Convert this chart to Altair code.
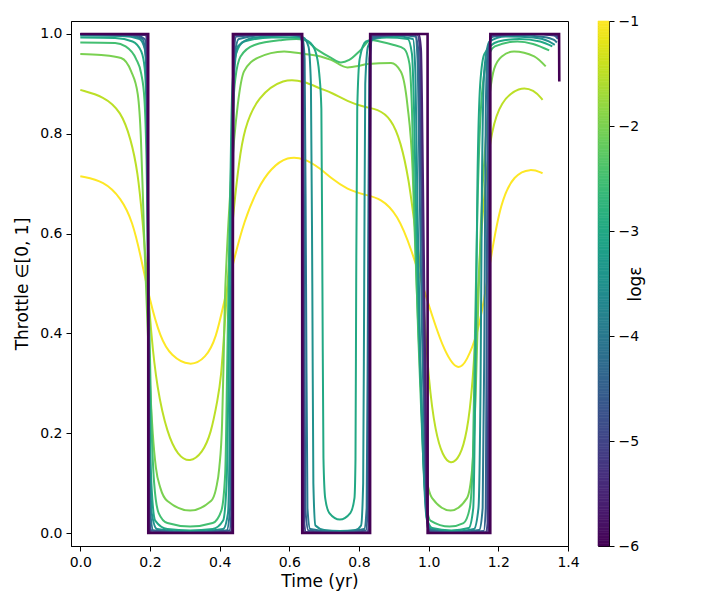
import altair as alt
import pandas as pd
import numpy as np

# log10(epsilon) of each continuation step
LOG_EPS = [-1, -1.5, -2, -2.5, -3, -3.5, -4, -4.5, -5, -5.5, -6]

# (time [yr], throttle), one list per epsilon
C_M1_0 = [(0, 0.715), (0.069, 0.705), (0.117, 0.671), (0.15, 0.625), (0.175, 0.55), (0.198, 0.47), (0.23, 0.39),
          (0.26, 0.355), (0.315, 0.333), (0.36, 0.35), (0.39, 0.39), (0.413, 0.464), (0.44, 0.545), (0.47, 0.625),
          (0.509, 0.691), (0.547, 0.731), (0.595, 0.755), (0.643, 0.751), (0.69, 0.73), (0.72, 0.711), (0.767, 0.688),
          (0.815, 0.678), (0.863, 0.671), (0.911, 0.638), (0.95, 0.57), (0.997, 0.464), (1.04, 0.37), (1.083, 0.322),
          (1.11, 0.345), (1.14, 0.398), (1.16, 0.47), (1.178, 0.55), (1.207, 0.665), (1.245, 0.718), (1.293, 0.731),
          (1.327, 0.721)]
C_M1_5 = [(0, 0.888), (0.068, 0.875), (0.117, 0.845), (0.145, 0.79), (0.165, 0.725), (0.179, 0.625), (0.19, 0.53),
          (0.203, 0.40), (0.22, 0.29), (0.25, 0.198), (0.28, 0.155), (0.315, 0.141), (0.35, 0.16), (0.375, 0.198),
          (0.395, 0.27), (0.404, 0.31), (0.413, 0.40), (0.427, 0.55), (0.442, 0.66), (0.455, 0.74), (0.47, 0.81),
          (0.509, 0.875), (0.585, 0.912), (0.643, 0.905), (0.69, 0.89), (0.72, 0.883), (0.767, 0.865), (0.815, 0.853),
          (0.853, 0.85), (0.892, 0.831), (0.92, 0.785), (0.944, 0.705), (0.958, 0.625), (0.972, 0.56), (0.985, 0.47),
          (1.0, 0.3), (1.02, 0.2), (1.04, 0.155), (1.063, 0.136), (1.09, 0.152), (1.11, 0.2), (1.126, 0.29),
          (1.14, 0.464), (1.15, 0.6), (1.165, 0.72), (1.18, 0.805), (1.207, 0.865), (1.26, 0.895), (1.303, 0.888),
          (1.327, 0.868)]
C_M2_0 = [(0, 0.96), (0.06, 0.958), (0.117, 0.952), (0.146, 0.925), (0.165, 0.879), (0.174, 0.79), (0.179, 0.69),
          (0.183, 0.6), (0.19, 0.47), (0.198, 0.33), (0.208, 0.2), (0.217, 0.131), (0.23, 0.09), (0.25, 0.064),
          (0.315, 0.045), (0.375, 0.064), (0.39, 0.09), (0.399, 0.131), (0.407, 0.22), (0.411, 0.331), (0.415, 0.464),
          (0.42, 0.55), (0.432, 0.7), (0.452, 0.858), (0.47, 0.925), (0.509, 0.952), (0.585, 0.965), (0.643, 0.96),
          (0.69, 0.955), (0.72, 0.948), (0.767, 0.933), (0.8, 0.936), (0.825, 0.94), (0.892, 0.942), (0.92, 0.925),
          (0.939, 0.858), (0.954, 0.725), (0.96, 0.6), (0.968, 0.45), (0.978, 0.28), (0.99, 0.13), (1.01, 0.07),
          (1.063, 0.045), (1.11, 0.07), (1.125, 0.13), (1.135, 0.28), (1.142, 0.45), (1.15, 0.62), (1.165, 0.8),
          (1.188, 0.93), (1.21, 0.955), (1.245, 0.965), (1.303, 0.955), (1.336, 0.935)]
C_M2_5 = [(0, 0.983), (0.1, 0.982), (0.13, 0.975), (0.16, 0.95), (0.175, 0.92), (0.184, 0.87), (0.19, 0.75),
          (0.196, 0.5), (0.203, 0.25), (0.212, 0.1), (0.225, 0.04), (0.25, 0.02), (0.315, 0.013), (0.38, 0.02),
          (0.405, 0.045), (0.416, 0.12), (0.422, 0.35), (0.428, 0.6), (0.435, 0.8), (0.445, 0.91), (0.46, 0.955),
          (0.5, 0.978), (0.58, 0.988), (0.62, 0.99), (0.643, 0.988), (0.681, 0.968), (0.72, 0.952), (0.748, 0.943),
          (0.772, 0.948), (0.805, 0.968), (0.834, 0.988), (0.86, 0.985), (0.9, 0.978), (0.93, 0.97), (0.945, 0.94),
          (0.952, 0.85), (0.96, 0.62), (0.97, 0.4), (0.98, 0.22), (0.99, 0.08), (1.005, 0.025), (1.06, 0.013),
          (1.1, 0.02), (1.118, 0.05), (1.127, 0.15), (1.133, 0.4), (1.14, 0.65), (1.15, 0.85), (1.165, 0.94),
          (1.19, 0.975), (1.255, 0.985), (1.3, 0.98), (1.346, 0.967)]
C_M3_0 = [(0, 0.993), (0.1, 0.992), (0.15, 0.985), (0.175, 0.965), (0.185, 0.93), (0.19, 0.85), (0.194, 0.6),
          (0.198, 0.3), (0.204, 0.1), (0.215, 0.025), (0.25, 0.008), (0.315, 0.005), (0.38, 0.008), (0.41, 0.025),
          (0.42, 0.1), (0.426, 0.35), (0.431, 0.7), (0.437, 0.9), (0.447, 0.96), (0.47, 0.985), (0.55, 0.993),
          (0.62, 0.993), (0.655, 0.985), (0.675, 0.965), (0.686, 0.92), (0.692, 0.85), (0.695, 0.5), (0.698, 0.15),
          (0.703, 0.07), (0.715, 0.04), (0.745, 0.027), (0.775, 0.04), (0.787, 0.07), (0.79, 0.15), (0.792, 0.5),
          (0.795, 0.85), (0.802, 0.95), (0.82, 0.985), (0.88, 0.993), (0.94, 0.99), (0.952, 0.96), (0.958, 0.85),
          (0.965, 0.6), (0.975, 0.35), (0.985, 0.15), (0.995, 0.03), (1.01, 0.01), (1.065, 0.005), (1.115, 0.01),
          (1.128, 0.05), (1.134, 0.3), (1.14, 0.7), (1.148, 0.9), (1.16, 0.96), (1.2, 0.985), (1.26, 0.99),
          (1.32, 0.985), (1.355, 0.975)]
C_M3_5 = [(0, 0.997), (0.12, 0.996), (0.17, 0.99), (0.185, 0.97), (0.191, 0.9), (0.195, 0.6), (0.199, 0.2),
          (0.205, 0.04), (0.22, 0.008), (0.315, 0.002), (0.41, 0.008), (0.424, 0.04), (0.429, 0.2), (0.434, 0.6),
          (0.44, 0.9), (0.452, 0.975), (0.5, 0.993), (0.6, 0.997), (0.64, 0.993), (0.655, 0.975), (0.662, 0.9),
          (0.666, 0.5), (0.669, 0.1), (0.675, 0.015), (0.7, 0.006), (0.745, 0.004), (0.79, 0.006), (0.806, 0.015),
          (0.812, 0.1), (0.815, 0.5), (0.818, 0.9), (0.826, 0.975), (0.845, 0.993), (0.9, 0.996), (0.955, 0.99),
          (0.962, 0.92), (0.968, 0.65), (0.976, 0.35), (0.986, 0.12), (0.994, 0.03), (1.005, 0.008), (1.065, 0.002),
          (1.13, 0.008), (1.143, 0.05), (1.149, 0.3), (1.153, 0.7), (1.16, 0.93), (1.175, 0.985), (1.22, 0.995),
          (1.3, 0.993), (1.345, 0.985), (1.362, 0.978)]
C_M4_0 = [(0, 0.999), (0.13, 0.998), (0.178, 0.99), (0.189, 0.95), (0.193, 0.7), (0.196, 0.3), (0.2, 0.05),
          (0.21, 0.005), (0.315, 0.001), (0.42, 0.005), (0.43, 0.05), (0.434, 0.3), (0.437, 0.7), (0.442, 0.95),
          (0.455, 0.99), (0.55, 0.999), (0.62, 0.998), (0.638, 0.99), (0.644, 0.95), (0.648, 0.5), (0.652, 0.05),
          (0.66, 0.008), (0.745, 0.0015), (0.815, 0.008), (0.822, 0.05), (0.826, 0.5), (0.83, 0.95), (0.838, 0.99),
          (0.9, 0.998), (0.962, 0.995), (0.968, 0.95), (0.974, 0.7), (0.981, 0.4), (0.989, 0.15), (0.996, 0.03),
          (1.005, 0.006), (1.065, 0.001), (1.145, 0.006), (1.155, 0.05), (1.16, 0.4), (1.164, 0.85), (1.17, 0.97),
          (1.185, 0.995), (1.25, 0.998), (1.33, 0.994), (1.36, 0.988), (1.368, 0.983)]
C_M4_5 = [(0, 1.0), (0.15, 0.999), (0.185, 0.99), (0.191, 0.95), (0.194, 0.5), (0.197, 0.05), (0.205, 0.005),
          (0.315, 0.0005), (0.428, 0.005), (0.434, 0.05), (0.437, 0.5), (0.44, 0.95), (0.448, 0.995), (0.6, 1.0),
          (0.635, 0.995), (0.64, 0.95), (0.643, 0.5), (0.646, 0.05), (0.655, 0.005), (0.745, 0.0005), (0.82, 0.005),
          (0.825, 0.05), (0.828, 0.5), (0.831, 0.95), (0.84, 0.995), (0.96, 0.999), (0.97, 0.97), (0.976, 0.8),
          (0.983, 0.5), (0.99, 0.2), (0.996, 0.03), (1.003, 0.004), (1.065, 0.0005), (1.158, 0.004), (1.164, 0.05),
          (1.167, 0.5), (1.171, 0.95), (1.18, 0.995), (1.3, 1.0), (1.36, 0.997), (1.371, 0.99)]
C_M5_0 = [(0, 1.0), (0.188, 0.998), (0.192, 0.98), (0.195, 0.5), (0.198, 0.02), (0.203, 0.002), (0.315, 0.0),
          (0.432, 0.002), (0.435, 0.02), (0.4375, 0.5), (0.44, 0.98), (0.445, 0.998), (0.632, 0.998), (0.637, 0.98),
          (0.64, 0.5), (0.643, 0.02), (0.648, 0.002), (0.745, 0.0), (0.825, 0.002), (0.828, 0.02), (0.8305, 0.5),
          (0.833, 0.98), (0.838, 0.998), (0.967, 0.999), (0.975, 0.97), (0.981, 0.7), (0.987, 0.35), (0.993, 0.08),
          (0.998, 0.01), (1.005, 0.001), (1.065, 0.0), (1.165, 0.002), (1.169, 0.02), (1.172, 0.5), (1.175, 0.98),
          (1.18, 0.998), (1.3, 1.0), (1.365, 0.998), (1.373, 0.993)]
C_M5_5 = [(0, 1.0), (0.19, 0.999), (0.193, 0.99), (0.195, 0.5), (0.197, 0.01), (0.2, 0.001), (0.315, 0.0),
          (0.435, 0.001), (0.437, 0.01), (0.438, 0.5), (0.44, 0.99), (0.443, 0.999), (0.634, 0.999), (0.636, 0.99),
          (0.638, 0.5), (0.64, 0.01), (0.643, 0.001), (0.745, 0.0), (0.828, 0.001), (0.83, 0.01), (0.831, 0.5),
          (0.833, 0.99), (0.836, 0.999), (0.972, 0.999), (0.978, 0.97), (0.984, 0.7), (0.989, 0.4), (0.994, 0.1),
          (0.998, 0.01), (1.004, 0.0), (1.065, 0.0), (1.17, 0.001), (1.172, 0.01), (1.174, 0.5), (1.176, 0.99),
          (1.179, 0.999), (1.3, 1.0), (1.37, 0.999), (1.374, 0.995)]
C_M6_0 = [(0, 1.0), (0.1949, 1.0), (0.1951, 0.0), (0.4379, 0.0), (0.4381, 1.0), (0.6369, 1.0), (0.6371, 0.0),
          (0.8319, 0.0), (0.8321, 1.0), (0.9969, 1.0), (0.9971, 0.0), (1.1769, 0.0), (1.1771, 1.0), (1.3744, 1.0),
          (1.375, 0.905)]

CURVES = [C_M1_0, C_M1_5, C_M2_0, C_M2_5, C_M3_0, C_M3_5, C_M4_0, C_M4_5, C_M5_0, C_M5_5, C_M6_0]
# the two broadest (smooth) curves are drawn with a B-spline, the rest with monotone cubic
SMOOTH = [True, True] + [False] * 9
WIDTHS = [2] * 10 + [2.6]

X_TICKS = [0.0, 0.2, 0.4, 0.6, 0.8, 1.0, 1.2, 1.4]
Y_TICKS = [0.0, 0.2, 0.4, 0.6, 0.8, 1.0]
CB_TICKS = [-6, -5, -4, -3, -2, -1]

FONT = "DejaVu Sans"
color_scale = alt.Scale(scheme="viridis", domain=[-6, -1])
x_scale = alt.Scale(domain=[-0.0267, 1.4], nice=False, zero=False)
y_scale = alt.Scale(domain=[-0.026, 1.026], nice=False, zero=False)

layers = []
for e, pts, smooth, w in zip(LOG_EPS, CURVES, SMOOTH, WIDTHS):
    d = pd.DataFrame({"t": [p[0] for p in pts], "u": [p[1] for p in pts],
                      "i": list(range(len(pts))), "logeps": e})
    layers.append(
        alt.Chart(d).mark_line(strokeWidth=w, interpolate="basis" if smooth else "monotone", clip=True).encode(
            x=alt.X("t:Q", scale=x_scale,
                    axis=alt.Axis(values=X_TICKS, format=".1f", title="Time (yr)", labelFlush=False,
                                  labelOverlap=False, titlePadding=4)),
            y=alt.Y("u:Q", scale=y_scale,
                    axis=alt.Axis(values=Y_TICKS, format=".1f", title="Throttle ∈[0, 1]", titlePadding=8)),
            color=alt.Color("logeps:Q", scale=color_scale, legend=None),
            order=alt.Order("i:Q"),
        )
    )

main = alt.layer(*layers).properties(width=497, height=525)

cb_lo = np.round(np.arange(-6.0, -1.0, 0.025), 4)
cb = pd.DataFrame({"lo": cb_lo, "hi": cb_lo + 0.025, "mid": cb_lo + 0.0125})
cbar = alt.Chart(cb).mark_rect(strokeWidth=0.6).encode(
    x=alt.value(0), x2=alt.value(11),
    y=alt.Y("lo:Q", scale=alt.Scale(domain=[-6, -1], nice=False, zero=False),
            axis=alt.Axis(orient="right", values=CB_TICKS, format="d", title="logε",
                          titleAngle=270, titlePadding=6)),
    y2="hi:Q",
    color=alt.Color("mid:Q", scale=color_scale, legend=None),
    stroke=alt.Stroke("mid:Q", scale=color_scale, legend=None),
).properties(width=11, height=525)

chart = alt.hconcat(main, cbar, spacing=30, bounds="flush").properties(
    padding={"left": 5, "top": 5, "right": 5, "bottom": 5}
).configure_axis(
    labelFont=FONT, titleFont=FONT, labelFontSize=14, titleFontSize=17, titleFontWeight="normal",
    labelColor="black", titleColor="black", tickColor="black", domainColor="black",
    tickSize=5, labelPadding=4, grid=False, domainWidth=1, tickWidth=1,
).configure_view(stroke="black", strokeWidth=1)

chart.save("out.html", embed_options={"renderer": "svg", "actions": False})
